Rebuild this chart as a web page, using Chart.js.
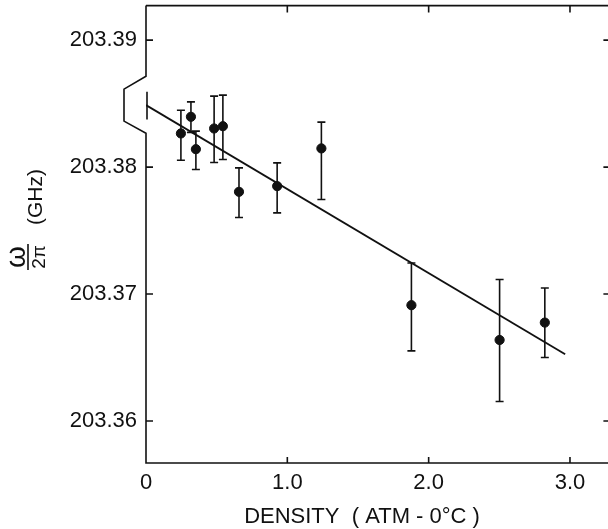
<!DOCTYPE html>
<html>
<head>
<meta charset="utf-8">
<script src="https://cdn.jsdelivr.net/npm/chart.js@4.4.0/dist/chart.umd.min.js"></script>
<style>
  html, body { margin: 0; padding: 0; background: #fff; overflow: hidden; }
  #wrap { width: 608px; height: 529px; overflow: hidden; position: relative; }
  canvas { display: block; }
</style>
</head>
<body>
<div id="wrap"><canvas id="chart" width="616" height="529"></canvas></div>
<script>
// Measured points (density in atm-0°C, frequency in GHz)
const density  = [0.247, 0.318, 0.353, 0.482, 0.544, 0.658, 0.928, 1.241, 1.878, 2.502, 2.822];
const freq     = [203.38265, 203.38396, 203.38141, 203.38304, 203.38322, 203.37805, 203.37850, 203.38147, 203.36912, 203.36638, 203.36775];
const freqHigh = [203.38448, 203.38514, 203.38283, 203.38559, 203.38567, 203.37994, 203.38033, 203.38354, 203.37245, 203.37114, 203.37048];
const freqLow  = [203.38054, 203.38273, 203.37981, 203.38036, 203.38060, 203.37603, 203.37639, 203.37745, 203.36552, 203.36153, 203.36500];

// Linear fit and its zero-density uncertainty
const fitX = [0, 2.966];
const fitY = [203.38488, 203.36526];
const zeroErr = [203.38375, 203.38593];

// Axes
const xTicks = [0, 1, 2, 3];
const xTickLabels = ['0', '1.0', '2.0', '3.0'];
const yTicks = [203.36, 203.37, 203.38, 203.39];
const yBreak = [203.38716, 203.38614, 203.38362, 203.38267];

const INK = '#111';
const FONT = '"Liberation Sans", Arial, sans-serif';

// Frame with inward ticks and the axis break
const framePlugin = {
  id: 'frame',
  afterDraw(chart) {
    const { ctx, chartArea: a, scales: { x, y } } = chart;
    ctx.save();
    ctx.strokeStyle = INK;
    ctx.lineWidth = 1.6;
    ctx.lineCap = 'butt';

    // left axis with zigzag break
    const b = yBreak.map(v => y.getPixelForValue(v));
    ctx.beginPath();
    ctx.moveTo(a.left, a.top);
    ctx.lineTo(a.left, b[0]);
    ctx.lineTo(a.left - 22, b[1]);
    ctx.lineTo(a.left - 22, b[2]);
    ctx.lineTo(a.left, b[3]);
    ctx.lineTo(a.left, a.bottom);
    ctx.lineTo(a.right, a.bottom);
    ctx.lineTo(a.right, a.top);
    ctx.lineTo(a.left, a.top);
    ctx.stroke();

    // ticks
    ctx.beginPath();
    yTicks.forEach(v => {
      const py = y.getPixelForValue(v);
      ctx.moveTo(a.left, py); ctx.lineTo(a.left + 7, py);
      ctx.moveTo(a.right, py); ctx.lineTo(a.right - 7, py);
    });
    xTicks.forEach(v => {
      const px = x.getPixelForValue(v);
      if (v === 0) return;
      ctx.moveTo(px, a.bottom); ctx.lineTo(px, a.bottom - 6);
      ctx.moveTo(px, a.top); ctx.lineTo(px, a.top + 7);
    });
    ctx.stroke();

    // x title
    ctx.fillStyle = INK;
    ctx.font = '22px ' + FONT;
    ctx.textAlign = 'center';
    ctx.textBaseline = 'alphabetic';
    ctx.fillText('DENSITY  ( ATM - 0°C )', 362, 523);

    // y title, rotated
    ctx.save();
    ctx.translate(36, 197);
    ctx.rotate(-Math.PI / 2);
    ctx.textBaseline = 'middle';
    ctx.font = '21px ' + FONT;
    ctx.fillText('(GHz)', 0, 0);
    ctx.restore();

    ctx.save();
    ctx.translate(28, 257);
    ctx.rotate(-Math.PI / 2);
    ctx.textAlign = 'center';
    ctx.font = '28px ' + FONT;
    ctx.textBaseline = 'alphabetic';
    ctx.fillText('ω', 0, -3);
    ctx.font = '19px ' + FONT;
    ctx.textBaseline = 'top';
    ctx.fillText('2π', 0, 2);
    ctx.lineWidth = 1.6;
    ctx.beginPath();
    ctx.moveTo(-13, 0); ctx.lineTo(13, 0);
    ctx.stroke();
    ctx.restore();

    ctx.restore();
  }
};

// Error bars drawn from the data arrays through the scales
const errorBarPlugin = {
  id: 'errorBars',
  beforeDatasetsDraw(chart) {
    const { ctx, scales: { x, y } } = chart;
    ctx.save();
    ctx.strokeStyle = INK;
    ctx.lineWidth = 1.6;
    ctx.beginPath();
    density.forEach((d, i) => {
      const px = x.getPixelForValue(d);
      const top = y.getPixelForValue(freqHigh[i]);
      const bot = y.getPixelForValue(freqLow[i]);
      ctx.moveTo(px, top); ctx.lineTo(px, bot);
      ctx.moveTo(px - 4, top); ctx.lineTo(px + 4, top);
      ctx.moveTo(px - 4, bot); ctx.lineTo(px + 4, bot);
    });
    const zx = x.getPixelForValue(fitX[0]) + 1;
    ctx.moveTo(zx, y.getPixelForValue(zeroErr[0]));
    ctx.lineTo(zx, y.getPixelForValue(zeroErr[1]));
    ctx.stroke();
    ctx.restore();
  }
};

new Chart(document.getElementById('chart'), {
  type: 'scatter',
  data: {
    datasets: [
      {
        label: 'data',
        data: density.map((d, i) => ({ x: d, y: freq[i] })),
        backgroundColor: INK,
        borderColor: INK,
        pointRadius: 4.6,
        pointHoverRadius: 4.6
      },
      {
        label: 'fit',
        type: 'line',
        data: fitX.map((d, i) => ({ x: d, y: fitY[i] })),
        borderColor: INK,
        borderWidth: 1.8,
        pointRadius: 0,
        fill: false
      }
    ]
  },
  options: {
    responsive: false,
    animation: false,
    devicePixelRatio: 1,
    layout: { padding: { top: 5.5, right: 0, left: 0, bottom: 0 } },
    plugins: { legend: { display: false }, tooltip: { enabled: false } },
    scales: {
      x: {
        type: 'linear',
        min: 0,
        max: 3.286,
        afterBuildTicks: s => { s.ticks = xTicks.map(v => ({ value: v })); },
        afterFit: s => { s.height = 66; s.paddingLeft = 0; s.paddingRight = 0; },
        grid: { display: false, drawTicks: false },
        border: { display: false },
        ticks: {
          color: INK,
          font: { family: FONT, size: 22 },
          padding: 7,
          maxRotation: 0,
          callback: (v, i) => xTickLabels[i]
        }
      },
      y: {
        type: 'linear',
        min: 203.35669,
        max: 203.39272,
        afterBuildTicks: s => { s.ticks = yTicks.map(v => ({ value: v })); },
        afterFit: s => { s.width = 146; s.paddingTop = 0; s.paddingBottom = 0; },
        grid: { display: false, drawTicks: false },
        border: { display: false },
        ticks: {
          color: INK,
          font: { family: FONT, size: 22 },
          padding: 9,
          callback: v => v.toFixed(2)
        }
      }
    }
  },
  plugins: [framePlugin, errorBarPlugin]
});
</script>
</body>
</html>
